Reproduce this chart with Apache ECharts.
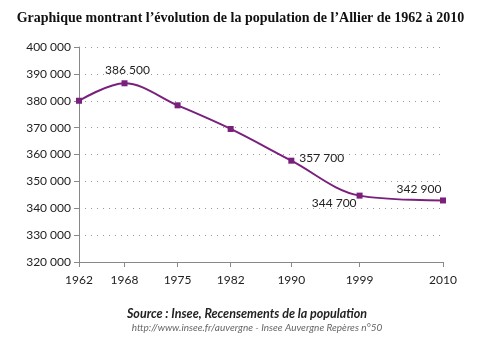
<!DOCTYPE html>
<html>
<head>
<meta charset="utf-8">
<script src="https://cdn.jsdelivr.net/npm/echarts@6/dist/echarts.min.js"></script>
<style>
html,body{margin:0;padding:0;background:#fff;}
#c{width:481px;height:338px;}
</style>
</head>
<body>
<div id="c"></div>
<script>
// Census years and population of the Allier department
var years = [1962, 1968, 1975, 1982, 1990, 1999, 2010];
var population = [380000, 386500, 378300, 369500, 357700, 344700, 342900];
// Which points carry a value label, and where the label sits
var labelled = [false, true, false, false, true, true, true];
var labelPos = ['top', 'top', 'top', 'top', 'right', 'left', 'top'];

function fmt(v) {
  return String(v).replace(/\B(?=(\d{3})+(?!\d))/g, ' ');
}

var purple = '#7a1f7c';
var font = 'Lato, "DejaVu Sans", sans-serif';

var data = years.map(function (y, i) {
  var item = { value: [y, population[i]] };
  if (labelled[i]) {
    var lab = { show: true, position: labelPos[i], formatter: fmt(population[i]),
      color: '#222', fontFamily: font, fontSize: 12 };
    if (i === 1) { lab.distance = 4; lab.offset = [3, 0]; }
    if (i === 4) { lab.offset = [0, -3]; lab.distance = 5; }
    if (i === 5) { lab.offset = [0, 8]; lab.distance = 0; }
    if (i === 6) { lab.offset = [-24, 3]; lab.distance = 5; }
    item.label = lab;
  }
  return item;
});

var chart = echarts.init(document.getElementById('c'), null, { renderer: 'canvas' });
chart.setOption({
  animation: false,
  backgroundColor: '#fff',
  title: [{
    text: 'Graphique montrant l\u2019\u00e9volution de la population de l\u2019Allier de 1962 \u00e0 2010',
    left: 'center', top: 6,
    textStyle: { fontFamily: '"Liberation Serif", "Times New Roman", serif', fontWeight: 'bold', fontSize: 14, color: '#111' }
  }, {
    text: 'Source : Insee, Recensements de la population',
    left: 242, top: 302, textAlign: 'center',
    textStyle: { fontFamily: font, fontWeight: 'bold', fontStyle: 'italic', fontSize: 12.5, color: '#222' }
  }, {
    text: 'http://www.insee.fr/auvergne - Insee Auvergne Rep\u00e8res n\u00b050',
    left: 252, top: 318, textAlign: 'center',
    textStyle: { fontFamily: font, fontWeight: 'normal', fontStyle: 'italic', fontSize: 10, color: '#666' }
  }],
  grid: { left: 79, right: 38, top: 47, bottom: 76 },
  xAxis: {
    type: 'value', min: 1962, max: 2010,
    axisLine: { show: true, lineStyle: { color: '#888', width: 1 } },
    axisTick: { show: true, customValues: years, length: 5, lineStyle: { color: '#888' } },
    axisLabel: { customValues: years, formatter: function (v) { return String(v); },
      color: '#222', fontFamily: font, fontSize: 12, margin: 12 },
    splitLine: { show: false }
  },
  yAxis: {
    type: 'value', min: 320000, max: 400000, interval: 10000,
    axisLine: { show: true, lineStyle: { color: '#888', width: 1 } },
    axisTick: { show: true, length: 5, inside: false, lineStyle: { color: '#888' } },
    axisLabel: { formatter: fmt, color: '#222', fontFamily: font, fontSize: 12, margin: 8 },
    splitLine: { show: true, lineStyle: { color: '#999', type: [1, 5], width: 1 } }
  },
  series: [{
    type: 'line',
    data: data,
    smooth: 0.35,
    symbol: 'rect',
    symbolSize: 6,
    itemStyle: { color: purple },
    lineStyle: { color: purple, width: 2 },
    label: { show: false }
  }]
});
</script>
</body>
</html>
